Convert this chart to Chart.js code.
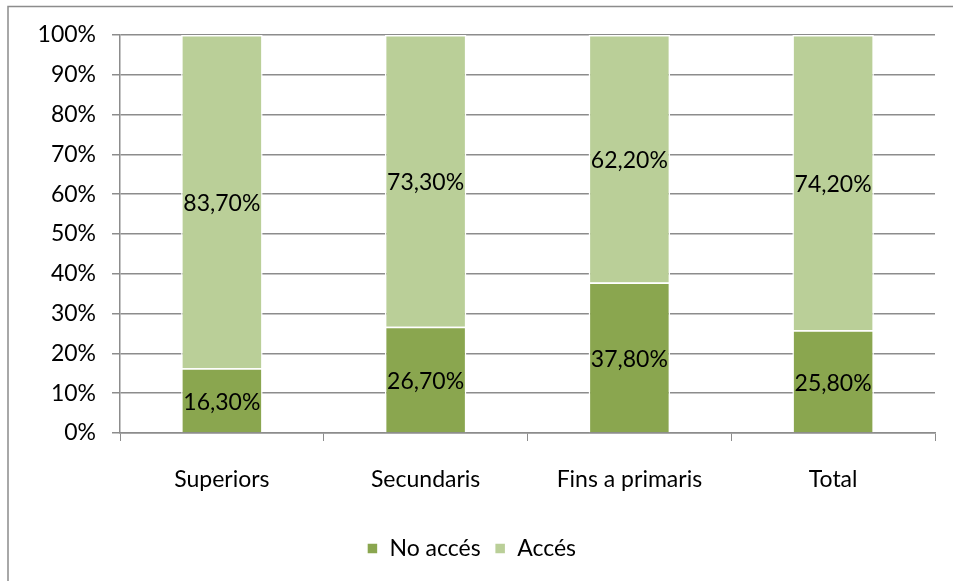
<!DOCTYPE html>
<html>
<head>
<meta charset="utf-8">
<script src="https://cdn.jsdelivr.net/npm/chart.js@4.4.1/dist/chart.umd.min.js"></script>
<style>
  html, body { margin: 0; padding: 0; background: #fff; }
  #wrap { width: 953px; height: 581px; position: relative; }
</style>
</head>
<body>
<div id="wrap"><canvas id="chart" width="953" height="581"></canvas></div>
<script>
const categories = ["Superiors", "Secundaris", "Fins a primaris", "Total"];
const noAcces = [16.3, 26.7, 37.8, 25.8];
const acces = [83.7, 73.3, 62.2, 74.2];
const yTicks = [0, 10, 20, 30, 40, 50, 60, 70, 80, 90, 100];

const FONT = "Lato, 'Open Sans', sans-serif";

function fmt(v) {
  return v.toFixed(2).replace(".", ",") + "%";
}

// frame of the chart object (cut off at right and bottom in the picture)
const framePlugin = {
  id: "frame",
  beforeDraw(chart) {
    const c = chart.ctx;
    c.save();
    c.strokeStyle = "#8c8c8c";
    c.lineWidth = 1.5;
    c.strokeRect(8, 6.5, 1000, 1000);
    c.restore();
  }
};

// value labels inside each segment
const labelPlugin = {
  id: "segLabels",
  afterDatasetsDraw(chart) {
    const c = chart.ctx;
    c.save();
    c.font = "23px " + FONT;
    c.fillStyle = "#000";
    c.textAlign = "center";
    c.textBaseline = "middle";
    chart.data.datasets.forEach((ds, i) => {
      chart.getDatasetMeta(i).data.forEach((bar, j) => {
        const props = bar.getProps(["x", "y", "base"], true);
        c.fillText(fmt(ds.data[j]), props.x, (props.y + props.base) / 2 + 2);
      });
    });
    c.restore();
  }
};

new Chart(document.getElementById("chart"), {
  type: "bar",
  data: {
    labels: categories,
    datasets: [
      {
        label: "No accés",
        data: noAcces,
        backgroundColor: "#8aa64f",
        borderColor: "#ffffff",
        borderWidth: 1.5,
        barPercentage: 0.4,
        categoryPercentage: 1
      },
      {
        label: "Accés",
        data: acces,
        backgroundColor: "#bacf98",
        borderColor: "#ffffff",
        borderWidth: 1.5,
        barPercentage: 0.4,
        categoryPercentage: 1
      }
    ]
  },
  options: {
    responsive: false,
    animation: false,
    layout: { padding: { left: 8, top: 35, right: 18, bottom: 11 } },
    plugins: {
      tooltip: { enabled: false },
      legend: {
        position: "bottom",
        labels: {
          font: { family: FONT, size: 23 },
          color: "#000",
          usePointStyle: true,
          pointStyle: "rect",
          boxWidth: 11,
          boxHeight: 11,
          padding: 14
        }
      }
    },
    scales: {
      x: {
        stacked: true,
        grid: {
          offset: true,
          drawOnChartArea: false,
          drawTicks: true,
          tickLength: 8,
          color: "#8c8c8c"
        },
        border: { color: "#8c8c8c", width: 1.5 },
        ticks: {
          font: { family: FONT, size: 23 },
          color: "#000",
          padding: 25
        },
        afterFit(s) { s.height = 90; }
      },
      y: {
        stacked: true,
        min: 0,
        max: 100,
        afterBuildTicks(s) { s.ticks = yTicks.map(v => ({ value: v })); },
        grid: {
          color: "#8c8c8c",
          lineWidth: 1.5,
          tickLength: 8
        },
        border: { color: "#8c8c8c", width: 1.5 },
        ticks: {
          font: { family: FONT, size: 23 },
          color: "#000",
          padding: 16,
          callback: v => v + "%"
        },
        afterFit(s) { s.width = 112; }
      }
    }
  },
  plugins: [framePlugin, labelPlugin]
});
</script>
</body>
</html>
